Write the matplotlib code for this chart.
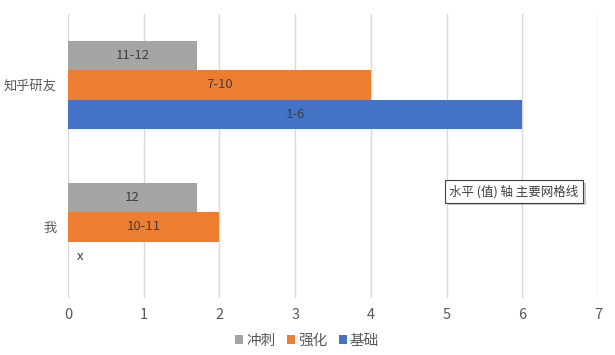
import matplotlib
matplotlib.use("Agg")
import matplotlib.pyplot as plt
import matplotlib.patheffects as pe

plt.rcParams['font.family'] = ['Noto Sans CJK SC', 'DejaVu Sans']

categories = ["我", "知乎研友"]
series_names = ["冲刺", "强化", "基础"]
sprint_vals = [1.7, 1.7]
strengthen_vals = [2, 4]
basic_vals = [0, 6]
sprint_labels = ["12", "11-12"]
strengthen_labels = ["10-11", "7-10"]
basic_labels = ["x", "1-6"]
colors = ["#A5A5A5", "#ED7D31", "#4472C4"]
x_ticks = [0, 1, 2, 3, 4, 5, 6, 7]

fig = plt.figure(figsize=(6.15, 3.55), dpi=100)
ax = fig.add_axes([68/615, 1-298/355, (598-68)/615, (298-14)/355])

h = 0.207
offsets = [h, 0, -h]
all_vals = [sprint_vals, strengthen_vals, basic_vals]
all_labels = [sprint_labels, strengthen_labels, basic_labels]
ypos = list(range(len(categories)))
handles = []
for name, vals, labs, off, c in zip(series_names, all_vals, all_labels, offsets, colors):
    yy = [y + off for y in ypos]
    bars = ax.barh(yy, vals, height=h, color=c, label=name, zorder=3)
    handles.append(bars)
    for b, v, lab in zip(bars, vals, labs):
        cy = b.get_y() + b.get_height() / 2
        if v == 0:
            ax.annotate(lab, (0, cy), xytext=(9, 0), textcoords='offset points',
                        ha='center', va='center', fontsize=9.5, color='#404040', zorder=4)
        else:
            ax.text(v / 2, cy, lab, ha='center', va='center', fontsize=9.5,
                    color='#404040', zorder=4)

ax.set_xlim(0, 7)
ax.set_ylim(-0.5, 1.5)
ax.set_xticks(x_ticks)
ax.set_yticks(ypos)
ax.set_yticklabels(categories)
ax.tick_params(axis='x', length=0, labelsize=10.5, labelcolor='#595959', pad=7)
ax.tick_params(axis='y', length=0, labelsize=9.5, labelcolor='#595959', pad=8)
ax.grid(axis='x', color='#D9D9D9', linewidth=1, zorder=0)
for s in ax.spines.values():
    s.set_visible(False)

leg = fig.legend(handles=handles, labels=series_names, loc='center',
                 bbox_to_anchor=(307/615, 1-341/355), ncol=3, frameon=False,
                 fontsize=10.5, handlelength=0.55, handleheight=0.55,
                 handletextpad=0.2, columnspacing=0.8)
for t in leg.get_texts():
    t.set_color('#595959')

tip = fig.text(514/615, 1-191.5/355, "水平 (值) 轴 主要网格线", ha='center', va='center',
               fontsize=9, color='#404040',
               bbox=dict(boxstyle='square,pad=0.35', facecolor='white',
                         edgecolor='#404040', linewidth=0.8))
tip.get_bbox_patch().set_path_effects([pe.SimplePatchShadow(offset=(2, -2), alpha=0.3), pe.Normal()])

fig.savefig("out.png", dpi=100, facecolor='white')
